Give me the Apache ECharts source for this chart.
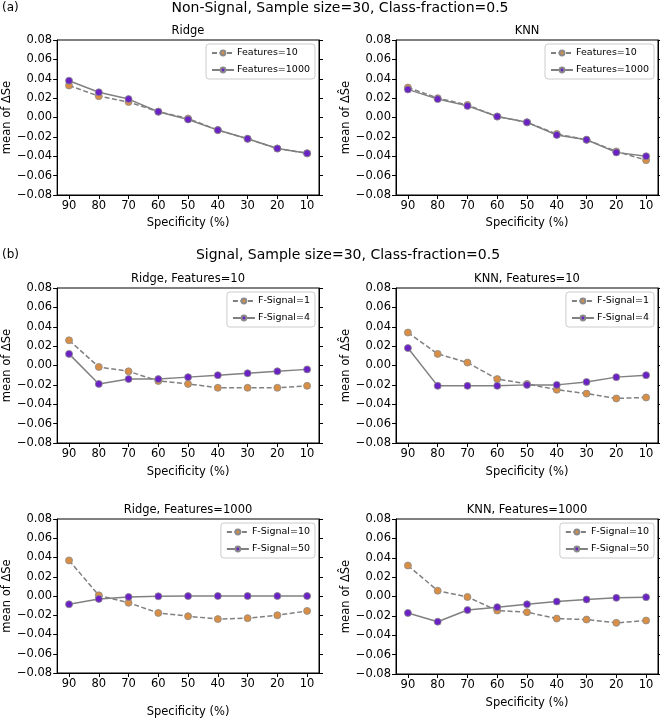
<!DOCTYPE html>
<html><head><meta charset="utf-8">
<script src="https://cdn.jsdelivr.net/npm/echarts@6/dist/echarts.min.js"></script>
<style>html,body{margin:0;padding:0;background:#fff}#c{width:660px;height:719px}</style>
</head><body><div id="c"></div>
<script>
const specificity = [90, 80, 70, 60, 50, 40, 30, 20, 10];
const yTickValues = [-0.08, -0.06, -0.04, -0.02, 0, 0.02, 0.04, 0.06, 0.08];

// (a) Non-Signal
const ridgeNS_F10   = [0.033, 0.022, 0.016, 0.006, -0.001, -0.013, -0.022, -0.032, -0.037];
const ridgeNS_F1000 = [0.038, 0.026, 0.019, 0.006, -0.002, -0.013, -0.022, -0.032, -0.037];
const knnNS_F10     = [0.031, 0.020, 0.013, 0.001, -0.005, -0.017, -0.023, -0.035, -0.044];
const knnNS_F1000   = [0.029, 0.019, 0.012, 0.001, -0.005, -0.018, -0.023, -0.036, -0.040];
// (b) Signal, Features=10
const ridgeS10_FS1  = [0.026, -0.0015, -0.006, -0.016, -0.019, -0.023, -0.023, -0.023, -0.021];
const ridgeS10_FS4  = [0.012, -0.019, -0.014, -0.014, -0.012, -0.010, -0.008, -0.006, -0.004];
const knnS10_FS1    = [0.034, 0.012, 0.003, -0.014, -0.019, -0.025, -0.029, -0.034, -0.033];
const knnS10_FS4    = [0.018, -0.021, -0.021, -0.021, -0.020, -0.020, -0.017, -0.012, -0.010];
// (b) Signal, Features=1000
const ridgeS1000_FS10 = [0.037, 0.0007, -0.007, -0.0176, -0.021, -0.024, -0.023, -0.020, -0.0155];
const ridgeS1000_FS50 = [-0.0086, -0.003, -0.001, -0.0003, -0.0001, 0, 0, 0, 0];
const knnS1000_FS10   = [0.032, 0.006, -0.0005, -0.0145, -0.0162, -0.0228, -0.0238, -0.0272, -0.0248];
const knnS1000_FS50   = [-0.017, -0.026, -0.014, -0.011, -0.008, -0.0052, -0.0031, -0.0014, -0.0007];

const FONT = 'DejaVu Sans';
const ORANGE = '#d88f45', PURPLE = '#6a22c4', LINE = '#808080';

const panels = [
  {l: 57,  t: 40,  title: 'Ridge', a: ['Features=10', ridgeNS_F10], b: ['Features=1000', ridgeNS_F1000], xg: 22},
  {l: 396, t: 40,  title: 'KNN',   a: ['Features=10', knnNS_F10],   b: ['Features=1000', knnNS_F1000], xg: 22},
  {l: 57,  t: 288, title: 'Ridge, Features=10', a: ['F-Signal=1', ridgeS10_FS1], b: ['F-Signal=4', ridgeS10_FS4], xg: 23},
  {l: 396, t: 288, title: 'KNN, Features=10',   a: ['F-Signal=1', knnS10_FS1],   b: ['F-Signal=4', knnS10_FS4], xg: 23},
  {l: 57,  t: 519, title: 'Ridge, Features=1000', a: ['F-Signal=10', ridgeS1000_FS10], b: ['F-Signal=50', ridgeS1000_FS50], xg: 33},
  {l: 396, t: 519, title: 'KNN, Features=1000',   a: ['F-Signal=10', knnS1000_FS10],   b: ['F-Signal=50', knnS1000_FS50], xg: 23}
];
const W = 262, H = 155;

function fmtY(v) {
  if (Math.abs(v) < 1e-9) return '0.00';
  return v.toFixed(2).replace('-', '\u2212');
}

const grid = [], xAxis = [], yAxis = [], series = [], legend = [], graphic = [];
panels.forEach((p, i) => {
  grid.push({left: p.l, top: p.t, width: W, height: H, show: true, borderColor: '#000', borderWidth: 1, backgroundColor: 'transparent'});
  xAxis.push({
    type: 'value', gridIndex: i, inverse: true, min: 6, max: 94,
    splitLine: {show: false},
    axisLine: {show: true, onZero: false, lineStyle: {color: '#000'}},
    axisTick: {show: true, length: 4, lineStyle: {color: '#000'}, customValues: specificity},
    axisLabel: {color: '#000', fontFamily: FONT, fontSize: 11.5, margin: 5, customValues: specificity},
    name: 'Specificity (%)', nameLocation: 'middle', nameGap: p.xg,
    nameTextStyle: {color: '#000', fontFamily: FONT, fontSize: 11.5}
  });
  yAxis.push({
    type: 'value', gridIndex: i, min: -0.08, max: 0.08, interval: 0.02,
    splitLine: {show: false},
    axisLine: {show: true, onZero: false, lineStyle: {color: '#000'}},
    axisTick: {show: true, length: 4, lineStyle: {color: '#000'}},
    axisLabel: {color: '#000', fontFamily: FONT, fontSize: 11.5, margin: 5, formatter: fmtY},
    name: 'mean of \u0394\u015Ce', nameLocation: 'middle', nameGap: 37, nameRotate: 90,
    nameTextStyle: {color: '#000', fontFamily: FONT, fontSize: 11.5}
  });
  yAxis.push({
    type: 'value', gridIndex: i, position: 'right', min: -0.08, max: 0.08, interval: 0.02,
    splitLine: {show: false},
    axisLine: {show: true, onZero: false, lineStyle: {color: '#000'}},
    axisTick: {show: true, length: 4, lineStyle: {color: '#000'}},
    axisLabel: {show: false}
  });
  const mk = (nameVals, color, dashed, z) => ({
    type: 'line', name: nameVals[0], xAxisIndex: i, yAxisIndex: 2 * i,
    data: specificity.map((s, k) => [s, nameVals[1][k]]),
    symbol: 'circle', symbolSize: 7, showSymbol: true,
    lineStyle: {color: LINE, width: 1.5, type: dashed ? [5, 2.5] : 'solid'},
    itemStyle: {color: color, borderColor: '#8a8a8a', borderWidth: 0.8},
    z: z, animation: false, silent: true
  });
  series.push(mk(p.a, ORANGE, true, 2));
  series.push(mk(p.b, PURPLE, false, 3));
  legend.push({
    data: [p.a[0], p.b[0]], orient: 'vertical',
    right: 660 - (p.l + W) + 4, top: p.t + 4,
    itemWidth: 22, itemHeight: 6, itemGap: 7,
    padding: [4, 5, 4, 5],
    borderColor: '#cccccc', borderWidth: 1, borderRadius: 3,
    backgroundColor: 'rgba(255,255,255,0.85)',
    textStyle: {color: '#000', fontFamily: FONT, fontSize: 9.5, padding: [0, 0, 0, -2]},
    selectedMode: false
  });
  graphic.push({type: 'text', x: p.l + W / 2, y: p.t - 15, style: {text: p.title, fill: '#000', font: '11.5px "DejaVu Sans"', textAlign: 'center'}});
});

graphic.push({type: 'text', x: 2, y: 2, style: {text: '(a)', fill: '#000', font: '12px "DejaVu Sans"'}});
graphic.push({type: 'text', x: 2, y: 249, style: {text: '(b)', fill: '#000', font: '12px "DejaVu Sans"'}});
graphic.push({type: 'text', x: 340, y: 1, style: {text: 'Non-Signal, Sample size=30, Class-fraction=0.5', fill: '#000', font: '14px "DejaVu Sans"', textAlign: 'center'}});
graphic.push({type: 'text', x: 348, y: 248, style: {text: 'Signal, Sample size=30, Class-fraction=0.5', fill: '#000', font: '14px "DejaVu Sans"', textAlign: 'center'}});

const chart = echarts.init(document.getElementById('c'), null, {renderer: 'canvas'});
chart.setOption({
  animation: false,
  backgroundColor: '#fff',
  grid, xAxis, yAxis, series, legend, graphic
});
</script>
</body></html>
